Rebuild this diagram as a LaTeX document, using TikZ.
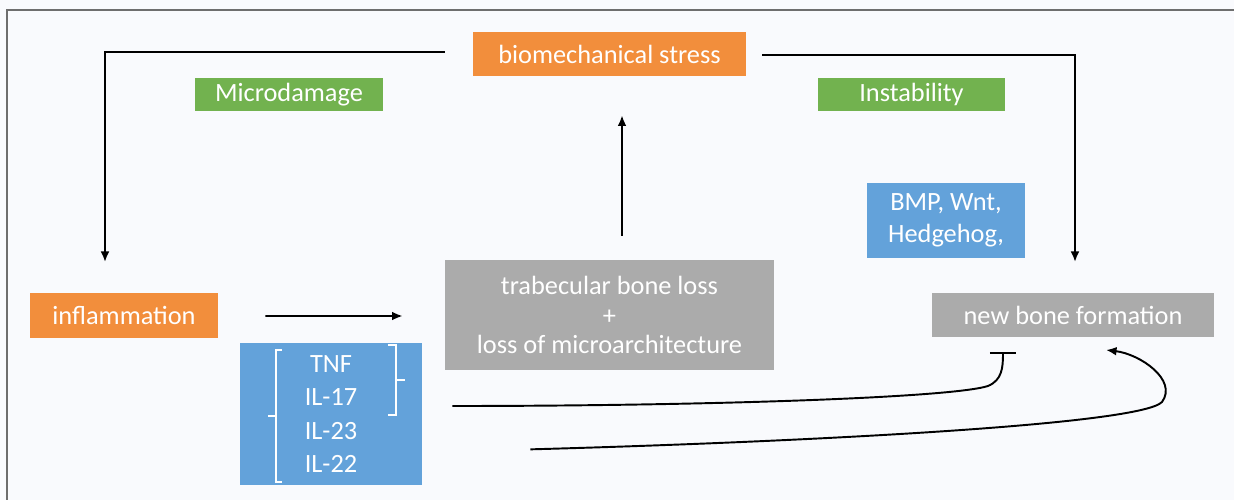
\documentclass[tikz,border=0pt]{standalone}
\usepackage{fontspec}
\setmainfont{Carlito}
\usepackage{tikz}
\usetikzlibrary{arrows.meta, calc, positioning}
\tikzset{>={Latex[length=6pt,width=5pt]}}
\definecolor{stressorange}{HTML}{F28E3C}
\definecolor{mechgreen}{HTML}{72B24F}
\definecolor{signalblue}{HTML}{63A2DA}
\definecolor{bonegray}{HTML}{ABABAB}
\definecolor{paper}{HTML}{F9FAFD}
\definecolor{framegray}{HTML}{6E6E6E}
\newcommand{\pxl}{0.02cm}
\tikzset{
  box/.style={rectangle, text=white, inner sep=0pt, align=center,
    font=\fontsize{15}{18}\selectfont},
  boxsize/.style 2 args={minimum width=#1*\pxl, minimum height=#2*\pxl},
  orangebox/.style={box, fill=stressorange},
  greenbox/.style={box, fill=mechgreen},
  bluebox/.style={box, fill=signalblue},
  graybox/.style={box, fill=bonegray},
  link/.style={black, line width=1.1pt},
  bracket/.style={white, line width=1.2pt}
}

\begin{document}
\begin{tikzpicture}[x=0.02cm, y=-0.02cm]

% Canvas
\useasboundingbox (0,0) rectangle (1234,500);
\fill[paper] (0,0) rectangle (1234,500);
\draw[framegray, line width=1.6pt] (7,500) -- (7,10) -- (1234,10);

% Boxes
\node[orangebox, boxsize={273}{44}] (stress) at (609.5,54) {biomechanical stress};
\node[greenbox, boxsize={188}{33}] (micro) at (289,94.5) {Microdamage};
\node[greenbox, boxsize={187}{33}] (instab) at (911.5,94.5) {Instability};
\node[orangebox, boxsize={188}{45}] (inflam) at (124,315.5) {inflammation};
\node[graybox, boxsize={329}{110}] (trab) at (609.5,315)
  {trabecular bone loss\\[-1pt]+\\[-1pt]loss of microarchitecture};
\node[bluebox, boxsize={158}{75}] (bmp) at (946,220.5) {BMP, Wnt,\\Hedgehog,};
\node[graybox, boxsize={282}{44}] (newbone) at (1073,315) {new bone formation};
\node[bluebox, boxsize={182}{142}, font=\fontsize{15}{19}\selectfont]
  (cyto) at (331,414) {TNF\\IL-17\\IL-23\\IL-22};

% Brackets inside cytokine box
\draw[bracket] ($(cyto.center)+(-49,-64)$) -- ($(cyto.center)+(-55,-64)$)
  -- ($(cyto.center)+(-55,68)$) -- ($(cyto.center)+(-49,68)$);
\draw[bracket] ($(cyto.center)+(-55,2)$) -- ($(cyto.center)+(-63,2)$);
\draw[bracket] ($(cyto.center)+(57,-69)$) -- ($(cyto.center)+(65,-69)$)
  -- ($(cyto.center)+(65,1)$) -- ($(cyto.center)+(57,1)$);
\draw[bracket] ($(cyto.center)+(65,-34)$) -- ($(cyto.center)+(74,-34)$);

% Free ends of connectors
\coordinate (leftend) at (105,262);
\coordinate (rightend) at (1075,262);
\coordinate (barend) at (1003,352);
\coordinate (arrowend) at (1106,350);

% Stress to inflammation and new bone
\draw[link, ->] ($(stress.west)+(-28,-2)$) -| (leftend);
\draw[link, ->] ($(stress.east)+(16,1)$) -| (rightend);

% Bone loss feeds back on stress
\draw[link, ->] ($(trab.north)+(12.5,-24)$) -- ($(stress.south)+(12.5,39)$);

% Inflammation drives bone loss
\draw[link, ->] ($(inflam.east)+(47,0.5)$) -- ($(trab.west)+(-42,1)$);

% Cytokines on new bone formation
\draw[link, -{Bar[width=15pt]}] ($(cyto.east)+(30,-8)$)
  .. controls (700,406) and (950,398) .. (988,386)
  .. controls (1002,380) and (1003,368) .. (barend);
\draw[link, ->] ($(cyto.south east)+(108,-36)$)
  .. controls (800,442) and (1140,425) .. (1162,402)
  .. controls (1178,380) and (1140,354) .. (arrowend);

\end{tikzpicture}
\end{document}
